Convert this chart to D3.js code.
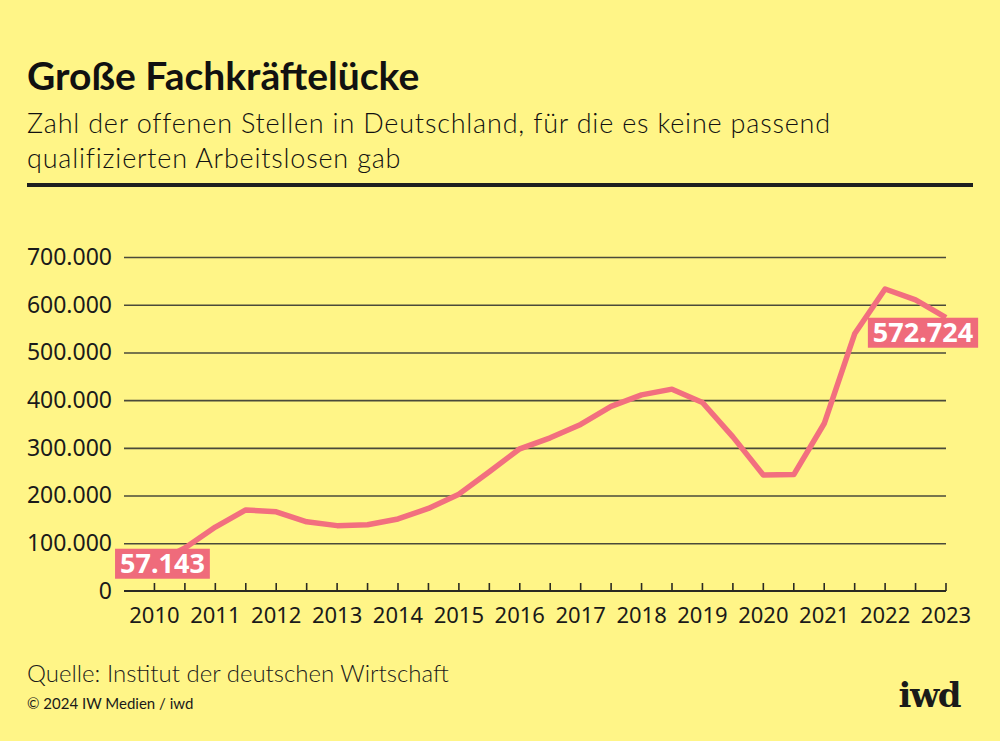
<!DOCTYPE html>
<html>
<head>
<meta charset="utf-8">
<script src="https://cdn.jsdelivr.net/npm/d3@7"></script>
<style>
  html, body { margin: 0; padding: 0; background: #fff587; }
  #chart { width: 1000px; height: 741px; }
</style>
</head>
<body>
<div id="chart"></div>
<script>
(function () {
    /* ----------------------- Data ----------------------- */
    const periods = [
        2010, 2010.5, 2011, 2011.5, 2012, 2012.5, 2013, 2013.5, 2014, 2014.5,
        2015, 2015.5, 2016, 2016.5, 2017, 2017.5, 2018, 2018.5, 2019, 2019.5,
        2020, 2020.5, 2021, 2021.5, 2022, 2022.5, 2023
    ];
    const openPositions = [
        57143, 90000, 134000, 170000, 166000, 145000, 137000, 139000, 151000, 173000,
        203000, 250000, 298000, 321000, 349000, 387000, 411000, 423000, 395000, 323000,
        243000, 244000, 351000, 539000, 633000, 610000, 572724
    ];
    const yTicks = [0, 100000, 200000, 300000, 400000, 500000, 600000, 700000];
    const xLabels = [2010, 2011, 2012, 2013, 2014, 2015, 2016, 2017, 2018, 2019, 2020, 2021, 2022, 2023];
    const tickPeriods = periods;

    const title = "Große Fachkräftelücke";
    const subtitle = [
        "Zahl der offenen Stellen in Deutschland, für die es keine passend",
        "qualifizierten Arbeitslosen gab"
    ];
    const source = "Quelle: Institut der deutschen Wirtschaft";
    const copyright = "© 2024 IW Medien / iwd";

    const data = periods.map((p, i) => ({ period: p, value: openPositions[i] }));

    /* ----------------------- Dimensions ----------------------- */
    const W = 1000, H = 741;
    const margin = { top: 257, right: 54, bottom: 150, left: 124 };

    const svg = d3.select("#chart")
        .append("svg")
        .attr("width", W)
        .attr("height", H)
        .attr("viewBox", `0 0 ${W} ${H}`);

    svg.append("rect").attr("width", W).attr("height", H).attr("fill", "#fff587");

    /* ----------------------- Header ----------------------- */
    svg.append("text")
        .attr("x", 27).attr("y", 90)
        .attr("font-family", "Lato, 'Open Sans', sans-serif")
        .attr("font-weight", 700)
        .attr("font-size", 39)
        .attr("fill", "#111")
        .text(title);

    svg.selectAll(".subtitle")
        .data(subtitle)
        .enter().append("text")
        .attr("class", "subtitle")
        .attr("x", 27)
        .attr("y", (d, i) => 133 + i * 35)
        .attr("font-family", "Lato, 'Open Sans', sans-serif")
        .attr("font-weight", 300)
        .attr("font-size", 27)
        .attr("letter-spacing", 0.8)
        .attr("fill", "#111")
        .text(d => d);

    svg.append("rect")
        .attr("x", 27).attr("y", 183)
        .attr("width", 946).attr("height", 4)
        .attr("fill", "#1e1e1e");

    /* ----------------------- Scales ----------------------- */
    const x = d3.scaleLinear()
        .domain([2009.5, 2023])
        .range([margin.left, W - margin.right]);
    const y = d3.scaleLinear()
        .domain([0, 700000])
        .range([H - margin.bottom, margin.top]);

    const fmt = d3.formatLocale({ decimal: ",", thousands: ".", grouping: [3], currency: ["", "€"] }).format(",");

    /* ----------------------- Grid and y labels ----------------------- */
    const yAxis = d3.axisLeft(y)
        .tickValues(yTicks)
        .tickSize(-(x.range()[1] - x.range()[0]))
        .tickPadding(12)
        .tickFormat(d => fmt(d));

    const gy = svg.append("g")
        .attr("transform", `translate(${margin.left},0)`)
        .call(yAxis);
    gy.select(".domain").remove();
    gy.selectAll(".tick line")
        .attr("stroke", "#4a4a3a")
        .attr("stroke-width", 1.6);
    gy.selectAll(".tick text")
        .attr("font-family", "'Noto Sans', sans-serif")
        .attr("font-size", 23)
        .attr("fill", "#1a1a1a");
    gy.selectAll(".tick").filter(d => d === 0).select("line").remove();

    /* ----------------------- x axis ----------------------- */
    const gx = svg.append("g")
        .attr("transform", `translate(0,${y(0)})`);

    gx.append("line")
        .attr("x1", x.range()[0]).attr("x2", x.range()[1])
        .attr("stroke", "#2a2a22")
        .attr("stroke-width", 2);

    gx.selectAll(".tickmark")
        .data(tickPeriods)
        .enter().append("line")
        .attr("class", "tickmark")
        .attr("x1", d => x(d)).attr("x2", d => x(d))
        .attr("y1", 0).attr("y2", -8)
        .attr("stroke", "#2a2a22")
        .attr("stroke-width", 1.6);

    gx.selectAll(".xlabel")
        .data(xLabels)
        .enter().append("text")
        .attr("class", "xlabel")
        .attr("x", d => x(d))
        .attr("y", 32)
        .attr("text-anchor", "middle")
        .attr("font-family", "'Noto Sans', sans-serif")
        .attr("font-size", 22)
        .attr("fill", "#1a1a1a")
        .text(d => d);

    /* ----------------------- Line ----------------------- */
    const line = d3.line()
        .x(d => x(d.period))
        .y(d => y(d.value));

    svg.append("path")
        .datum(data)
        .attr("d", line)
        .attr("fill", "none")
        .attr("stroke", "#f26f7f")
        .attr("stroke-width", 5.5)
        .attr("stroke-linejoin", "round");

    /* ----------------------- Value labels ----------------------- */
    const first = data[0];
    const last = data[data.length - 1];
    const labels = [
        { d: first, cx: x(first.period) + 8, cy: y(first.value) },
        { d: last, cx: x(last.period) - 23, cy: y(last.value) + 15 }
    ];

    labels.forEach(l => {
        const g = svg.append("g");
        const rect = g.append("rect").attr("fill", "#ef6b7b");
        const t = g.append("text")
            .attr("x", l.cx)
            .attr("y", l.cy)
            .attr("dy", "0.36em")
            .attr("text-anchor", "middle")
            .attr("font-family", "'Noto Sans', sans-serif")
            .attr("font-weight", 700)
            .attr("font-size", 27)
            .attr("fill", "#fff")
            .text(fmt(l.d.value));
        const bb = t.node().getBBox();
        rect.attr("x", bb.x - 5)
            .attr("y", l.cy - 15)
            .attr("width", bb.width + 10)
            .attr("height", 30);
    });

    /* ----------------------- Footer ----------------------- */
    svg.append("text")
        .attr("x", 27).attr("y", 682)
        .attr("font-family", "Lato, sans-serif")
        .attr("font-weight", 300)
        .attr("font-size", 24)
        .attr("fill", "#1a1a1a")
        .text(source);

    svg.append("text")
        .attr("x", 27).attr("y", 709)
        .attr("font-family", "'Liberation Sans Narrow', Lato, sans-serif")
        .attr("font-size", 15)
        .attr("fill", "#1a1a1a")
        .text(copyright);

    svg.append("text")
        .attr("x", 960).attr("y", 707)
        .attr("text-anchor", "end")
        .attr("font-family", "'DejaVu Serif', serif")
        .attr("font-weight", 700)
        .attr("font-size", 34)
        .attr("letter-spacing", -1.5)
        .attr("fill", "#1a1a1a")
        .text("iwd");
})();
</script>
</body>
</html>
